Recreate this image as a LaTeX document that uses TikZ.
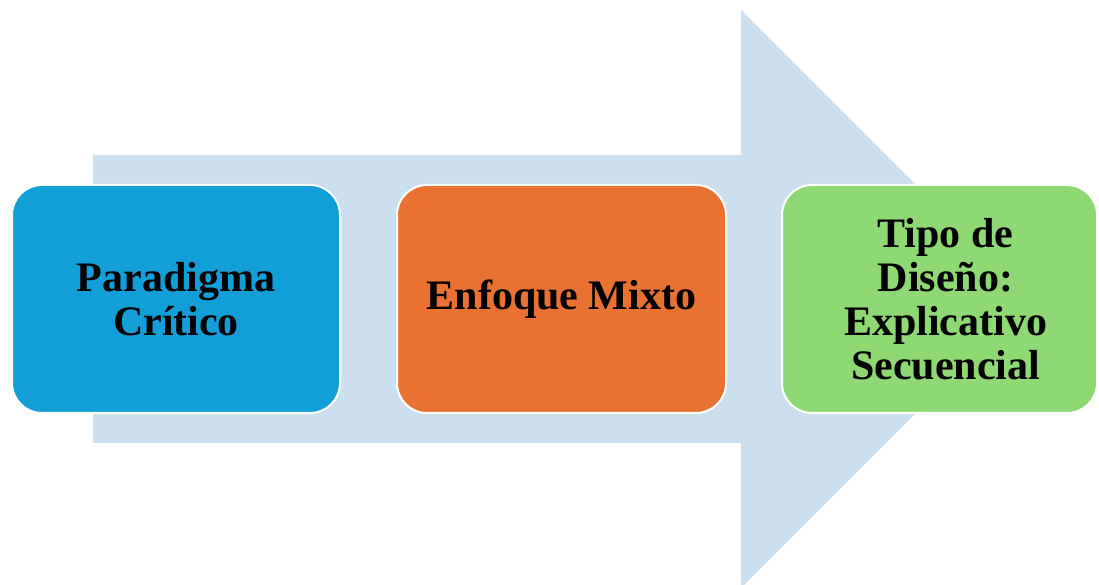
\documentclass[tikz,border=0pt]{standalone}
\usepackage{fontspec}
\setmainfont{Liberation Serif}
\definecolor{flecha}{HTML}{CCDFEE}
\definecolor{azul}{HTML}{129FD7}
\definecolor{naranja}{HTML}{E97132}
\definecolor{verde}{HTML}{8ED973}
\begin{document}
\begin{tikzpicture}[x=1pt,y=1pt,
    paso/.style={rounded corners=30pt, draw=white, line width=2pt,
      minimum height=228pt, align=center, inner sep=0pt,
      font=\bfseries\fontsize{42}{44}\selectfont}]
  \useasboundingbox (0,0) rectangle (1099,585);
  % flecha de fondo
  \fill[flecha] (93,430) -- (741,430) -- (741,575) -- (1030,286)
    -- (741,-3) -- (741,142) -- (93,142) -- cycle;
  \node[paso, fill=azul, minimum width=328pt] (paradigma) at (176,286)
    {Paradigma\\Crítico};
  \node[paso, fill=naranja, minimum width=329pt] (enfoque) at (561.5,286)
    {Enfoque Mixto};
  \node[paso, fill=verde, minimum width=315pt] (diseno) at (939.5,286)
    {\hspace*{12pt}Tipo de\\\hspace*{12pt}Diseño:\\\hspace*{12pt}Explicativo\\\hspace*{12pt}Secuencial};
\end{tikzpicture}
\end{document}
